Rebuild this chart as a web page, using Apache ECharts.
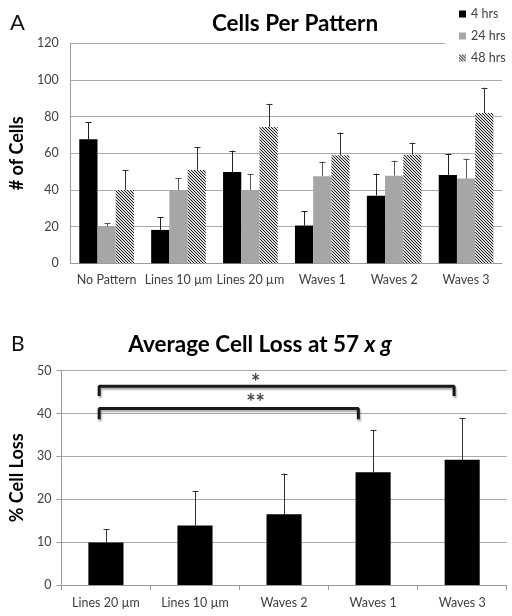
<!DOCTYPE html>
<html>
<head>
<meta charset="utf-8">
<script src="https://cdn.jsdelivr.net/npm/echarts@6/dist/echarts.min.js"></script>
<style>
html,body{margin:0;padding:0;background:#fff;}
#chart{width:512px;height:616px;}
</style>
</head>
<body>
<div id="chart"></div>
<script>
// ---- Data: panel A ----
const categoriesA = ['No Pattern', 'Lines 10 µm', 'Lines 20 µm', 'Waves 1', 'Waves 2', 'Waves 3'];
const seriesNamesA = ['4 hrs', '24 hrs', '48 hrs'];
const hrs4 = [67.6, 18.2, 49.8, 20.6, 36.9, 48.2];
const hrs24 = [20, 40, 40, 47.5, 47.8, 46.2];
const hrs48 = [40, 50.9, 74.3, 58.9, 59.2, 82];
const err4 = [9.2, 7, 11.7, 7.8, 12, 11.6];
const err24 = [2, 6.5, 8.5, 7.9, 8.2, 10.9];
const err48 = [11, 12.4, 12.7, 12.4, 6.6, 13.8];
const yTicksA = [0, 20, 40, 60, 80, 100, 120];

// ---- Data: panel B ----
const categoriesB = ['Lines 20 µm', 'Lines 10 µm', 'Waves 2', 'Waves 1', 'Waves 3'];
const cellLoss = [9.9, 13.9, 16.5, 26.3, 29.2];
const cellLossErr = [3.1, 8, 9.5, 9.9, 9.8];
const yTicksB = [0, 10, 20, 30, 40, 50];
// significance brackets (x in category-index units, y in % cell loss)
const bracketOne = [[-0.076, 44.1], [-0.076, 46.4], [3.909, 46.4], [3.909, 44.1]];
const bracketTwo = [[-0.076, 38.7], [-0.076, 41.2], [2.834, 41.2], [2.834, 38.7]];
const starLabels = [{ text: '*', x: 1.68, y: 48.4 }, { text: '**', x: 1.68, y: 43.6 }];

const FONT = 'Lato';

// hatch pattern
const pc = document.createElement('canvas');
pc.width = 3; pc.height = 3;
const pctx = pc.getContext('2d');
pctx.fillStyle = '#dcdcdc';
pctx.fillRect(0, 0, 3, 3);
pctx.fillStyle = '#1e1e1e';
for (let y = 0; y < 3; y++) for (let x = 0; x < 3; x++) {
  if (((x - y) % 3 + 3) % 3 === 0) pctx.fillRect(x, y, 1, 1);
}
const hatch = { image: pc, repeat: 'repeat' };

const chart = echarts.init(document.getElementById('chart'), null, { renderer: 'canvas' });

const GAP_A = 0.24;
function errSeriesA(vals, errs, offset, color) {
  return {
    type: 'custom', xAxisIndex: 0, yAxisIndex: 0, z: 5, silent: true,
    data: vals.map((v, i) => [i, v, errs[i]]),
    renderItem: function (params, api) {
      const i = api.value(0), v = api.value(1), e = api.value(2);
      const band = api.size([1, 0])[0];
      const bw = band * (1 - GAP_A) / 3;
      const b = api.coord([i, v]);
      const t = api.coord([i, v + e]);
      const x = Math.round(b[0] + offset * bw) + 0.5;
      return {
        type: 'group', children: [
          { type: 'line', shape: { x1: x, y1: b[1], x2: x, y2: t[1] }, style: { stroke: color, lineWidth: 1 } },
          { type: 'line', shape: { x1: x - 3, y1: Math.round(t[1]) + 0.5, x2: x + 3, y2: Math.round(t[1]) + 0.5 }, style: { stroke: color, lineWidth: 1 } }
        ]
      };
    }
  };
}

const axisLabelStyle = { color: '#404040', fontFamily: FONT, fontSize: 12.5 };

const option = {
  animation: false,
  backgroundColor: '#fff',
  title: [
    { text: 'A', left: 5, top: 7, textStyle: { fontFamily: FONT, fontSize: 22, fontWeight: 'normal', color: '#111' } },
    { text: 'Cells Per Pattern', left: 290, textAlign: 'center', top: 7, textStyle: { fontFamily: FONT, fontSize: 22.5, fontWeight: 'bold', color: '#000' } },
    { text: 'B', left: 6, top: 329, textStyle: { fontFamily: FONT, fontSize: 21, fontWeight: 'normal', color: '#111' } },
    {
      text: '{a|Average Cell Loss at 57 }{b|x g}', left: 255, textAlign: 'center', top: 328,
      textStyle: {
        fontFamily: FONT, fontSize: 22.5, fontWeight: 'bold', color: '#000',
        rich: {
          a: { fontFamily: FONT, fontSize: 22.5, fontWeight: 'bold', color: '#000' },
          b: { fontFamily: FONT, fontSize: 22.5, fontWeight: 'bold', fontStyle: 'italic', color: '#000' }
        }
      }
    }
  ],
  legend: {
    data: seriesNamesA, orient: 'vertical', left: 445, top: 1,
    padding: [6, 10, 6, 14], itemGap: 8, itemWidth: 7, itemHeight: 7, icon: 'rect',
    backgroundColor: '#fff', z: 10,
    textStyle: { fontFamily: FONT, fontSize: 12.5, color: '#404040', lineHeight: 14 }
  },
  grid: [
    { left: 60, right: 10, top: 43.3, bottom: 352.7 },
    { left: 54.3, right: 5.3, top: 370.7, bottom: 31 }
  ],
  xAxis: [
    {
      type: 'category', gridIndex: 0, data: categoriesA,
      axisLine: { lineStyle: { color: '#9a9a9a' } }, axisTick: { show: false },
      axisLabel: Object.assign({ margin: 10, interval: 0 }, axisLabelStyle)
    },
    {
      type: 'category', gridIndex: 1, data: categoriesB,
      axisLine: { lineStyle: { color: '#9a9a9a' } }, axisTick: { show: true, length: 5, lineStyle: { color: '#9a9a9a' } },
      axisLabel: Object.assign({ margin: 11, interval: 0 }, axisLabelStyle)
    },
    { type: 'value', gridIndex: 1, min: -0.5, max: 4.5, show: false }
  ],
  yAxis: [
    {
      type: 'value', gridIndex: 0, min: yTicksA[0], max: yTicksA[yTicksA.length - 1], interval: 20,
      name: '# of Cells', nameLocation: 'middle', nameGap: 35, nameRotate: 90,
      nameTextStyle: { fontFamily: FONT, fontSize: 18, fontWeight: 'bold', color: '#000' },
      axisLine: { show: true, onZero: false, lineStyle: { color: '#9a9a9a' } }, axisTick: { show: false },
      axisLabel: Object.assign({ margin: 12 }, axisLabelStyle),
      splitLine: { lineStyle: { color: '#ababab' } }
    },
    {
      type: 'value', gridIndex: 1, min: yTicksB[0], max: yTicksB[yTicksB.length - 1], interval: 10,
      name: '% Cell Loss', nameLocation: 'middle', nameGap: 29, nameRotate: 90,
      nameTextStyle: { fontFamily: FONT, fontSize: 18, fontWeight: 'bold', color: '#000' },
      axisLine: { show: true, onZero: false, lineStyle: { color: '#9a9a9a' } }, axisTick: { show: true, length: 5, lineStyle: { color: '#9a9a9a' } },
      axisLabel: Object.assign({ margin: 10 }, axisLabelStyle),
      splitLine: { lineStyle: { color: '#ababab' } }
    }
  ],
  series: [
    { name: '4 hrs', type: 'bar', xAxisIndex: 0, yAxisIndex: 0, data: hrs4, barGap: '0%', barCategoryGap: '24%', itemStyle: { color: '#000' } },
    { name: '24 hrs', type: 'bar', xAxisIndex: 0, yAxisIndex: 0, data: hrs24, barGap: '0%', barCategoryGap: '24%', itemStyle: { color: '#a6a6a6' } },
    { name: '48 hrs', type: 'bar', xAxisIndex: 0, yAxisIndex: 0, data: hrs48, barGap: '0%', barCategoryGap: '24%', itemStyle: { color: hatch } },
    errSeriesA(hrs4, err4, -1, '#222'),
    errSeriesA(hrs24, err24, 0, '#555'),
    errSeriesA(hrs48, err48, 1, '#333'),
    { name: 'loss', type: 'bar', xAxisIndex: 1, yAxisIndex: 1, data: cellLoss, barCategoryGap: '60.6%', itemStyle: { color: '#000' } },
    {
      type: 'custom', xAxisIndex: 1, yAxisIndex: 1, z: 5, silent: true,
      data: cellLoss.map((v, i) => [i, v, cellLossErr[i]]),
      renderItem: function (params, api) {
        const i = api.value(0), v = api.value(1), e = api.value(2);
        const b = api.coord([i, v]);
        const t = api.coord([i, v + e]);
        const x = Math.round(b[0]) + 0.5;
        return {
          type: 'group', children: [
            { type: 'line', shape: { x1: x, y1: b[1], x2: x, y2: t[1] }, style: { stroke: '#333', lineWidth: 1 } },
            { type: 'line', shape: { x1: x - 3, y1: Math.round(t[1]) + 0.5, x2: x + 3, y2: Math.round(t[1]) + 0.5 }, style: { stroke: '#333', lineWidth: 1 } }
          ]
        };
      }
    },
    {
      type: 'line', xAxisIndex: 2, yAxisIndex: 1, data: bracketOne, symbol: 'none', silent: true, z: 6,
      lineStyle: { color: '#1a1a1a', width: 3, shadowColor: 'rgba(0,0,0,0.35)', shadowBlur: 2, shadowOffsetY: 2, shadowOffsetX: 1 }
    },
    {
      type: 'line', xAxisIndex: 2, yAxisIndex: 1, data: bracketTwo, symbol: 'none', silent: true, z: 6,
      lineStyle: { color: '#1a1a1a', width: 3, shadowColor: 'rgba(0,0,0,0.35)', shadowBlur: 2, shadowOffsetY: 2, shadowOffsetX: 1 }
    },
    {
      type: 'scatter', xAxisIndex: 2, yAxisIndex: 1, symbolSize: 0, silent: true, z: 7,
      data: starLabels.map(s => ({ value: [s.x, s.y], name: s.text })),
      label: {
        show: true, position: 'inside', offset: [0, 5], formatter: p => p.name,
        fontFamily: FONT, fontSize: 22, fontWeight: 'bold', color: '#111'
      }
    }
  ]
};
chart.setOption(option);
</script>
</body>
</html>
